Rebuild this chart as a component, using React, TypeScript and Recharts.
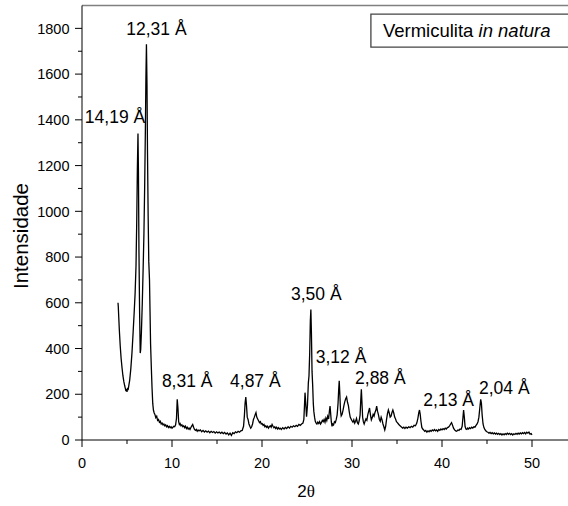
import React from 'react';
import {
  ComposedChart,
  Line,
  XAxis,
  YAxis,
  ReferenceLine,
  ReferenceDot,
  ReferenceArea,
  Label,
} from 'recharts';

// 2θ (degrees) and intensity
const scan: [number, number][] = [
  [4.00, 600], [4.03, 585], [4.08, 540], [4.15, 480], [4.25, 410], [4.35, 355], [4.45, 315], [4.55, 280],
  [4.65, 255], [4.75, 236], [4.82, 225], [4.88, 214], [4.94, 222], [5.00, 210], [5.06, 228], [5.12, 218],
  [5.20, 238], [5.30, 262], [5.42, 310], [5.55, 380], [5.68, 470], [5.80, 560], [5.90, 640], [6.00, 760],
  [6.08, 950], [6.15, 1180], [6.22, 1340], [6.27, 1180], [6.33, 820], [6.40, 560], [6.47, 380], [6.52, 395],
  [6.60, 470], [6.70, 600], [6.80, 760], [6.88, 900], [6.96, 1100], [7.04, 1350], [7.10, 1580], [7.16, 1730],
  [7.22, 1560], [7.28, 1250], [7.35, 980], [7.42, 780], [7.50, 700], [7.56, 560], [7.62, 420], [7.70, 320],
  [7.78, 230], [7.86, 160], [7.94, 130], [8.02, 118], [8.10, 112], [8.20, 98], [8.30, 104], [8.40, 86],
  [8.50, 90], [8.60, 78], [8.70, 82], [8.80, 70], [8.90, 74], [9.00, 66], [9.10, 70], [9.20, 62],
  [9.30, 66], [9.40, 58], [9.50, 63], [9.60, 55], [9.70, 60], [9.80, 54], [9.90, 58], [10.00, 52],
  [10.10, 56], [10.20, 60], [10.30, 58], [10.40, 66], [10.50, 95], [10.58, 178], [10.66, 140], [10.74, 80],
  [10.82, 68], [10.90, 72], [11.00, 62], [11.10, 66], [11.20, 58], [11.30, 62], [11.40, 54], [11.50, 60],
  [11.60, 50], [11.70, 56], [11.80, 48], [11.90, 52], [12.00, 46], [12.10, 55], [12.20, 62], [12.30, 68],
  [12.40, 56], [12.50, 46], [12.60, 42], [12.70, 46], [12.80, 38], [12.90, 44], [13.00, 40], [13.15, 44],
  [13.30, 36], [13.45, 42], [13.60, 35], [13.75, 40], [13.90, 34], [14.05, 39], [14.20, 32], [14.35, 38],
  [14.50, 33], [14.65, 37], [14.80, 30], [14.95, 36], [15.10, 31], [15.25, 35], [15.40, 29], [15.55, 34],
  [15.70, 28], [15.85, 33], [16.00, 26], [16.15, 31], [16.30, 22], [16.45, 30], [16.60, 20], [16.75, 32],
  [16.90, 28], [17.05, 36], [17.20, 32], [17.35, 38], [17.50, 34], [17.65, 40], [17.80, 42], [17.95, 60],
  [18.05, 110], [18.12, 160], [18.20, 188], [18.28, 150], [18.36, 100], [18.45, 90], [18.55, 70], [18.65, 60],
  [18.75, 52], [18.85, 58], [18.95, 70], [19.05, 90], [19.15, 100], [19.25, 112], [19.33, 120], [19.42, 100],
  [19.52, 92], [19.62, 84], [19.72, 76], [19.82, 80], [19.92, 70], [20.02, 72], [20.12, 64], [20.22, 68],
  [20.32, 58], [20.42, 62], [20.52, 55], [20.62, 60], [20.72, 52], [20.82, 58], [20.92, 62], [21.02, 56],
  [21.12, 68], [21.22, 60], [21.32, 54], [21.42, 58], [21.52, 50], [21.62, 56], [21.72, 48], [21.82, 54],
  [21.92, 48], [22.02, 52], [22.15, 46], [22.30, 54], [22.45, 48], [22.60, 55], [22.75, 50], [22.90, 58],
  [23.05, 52], [23.20, 60], [23.35, 56], [23.50, 62], [23.65, 58], [23.80, 64], [23.95, 60], [24.10, 68],
  [24.25, 64], [24.40, 70], [24.55, 74], [24.65, 90], [24.72, 150], [24.78, 207], [24.86, 160], [24.95, 102],
  [25.05, 150], [25.15, 250], [25.22, 280], [25.30, 380], [25.37, 520], [25.43, 571], [25.49, 470], [25.56, 300],
  [25.63, 240], [25.70, 160], [25.76, 125], [25.84, 100], [25.92, 82], [26.00, 75], [26.10, 70], [26.20, 78],
  [26.30, 72], [26.40, 80], [26.50, 70], [26.60, 76], [26.70, 86], [26.80, 80], [26.90, 90], [27.00, 78],
  [27.10, 96], [27.20, 85], [27.30, 104], [27.40, 92], [27.50, 130], [27.56, 148], [27.62, 120], [27.70, 80],
  [27.78, 60], [27.86, 70], [27.95, 66], [28.05, 80], [28.15, 76], [28.25, 90], [28.35, 110], [28.45, 160],
  [28.52, 220], [28.58, 259], [28.64, 210], [28.72, 130], [28.80, 105], [28.90, 112], [29.00, 130], [29.10, 150],
  [29.20, 168], [29.30, 180], [29.40, 188], [29.50, 165], [29.60, 150], [29.70, 122], [29.80, 100], [29.90, 92],
  [30.00, 84], [30.10, 78], [30.20, 88], [30.30, 74], [30.40, 82], [30.50, 94], [30.60, 76], [30.70, 70],
  [30.80, 84], [30.90, 110], [30.97, 170], [31.04, 222], [31.10, 170], [31.18, 100], [31.26, 80], [31.35, 70],
  [31.45, 82], [31.55, 92], [31.65, 86], [31.75, 110], [31.85, 125], [31.95, 140], [32.05, 110], [32.15, 88],
  [32.25, 98], [32.35, 112], [32.45, 104], [32.55, 120], [32.65, 130], [32.74, 148], [32.84, 125], [32.94, 110],
  [33.04, 90], [33.14, 82], [33.24, 100], [33.34, 88], [33.44, 70], [33.54, 58], [33.64, 44], [33.74, 60],
  [33.84, 90], [33.94, 115], [34.04, 131], [34.14, 118], [34.24, 100], [34.34, 104], [34.44, 120], [34.54, 131],
  [34.64, 118], [34.74, 100], [34.84, 92], [34.94, 80], [35.04, 76], [35.16, 70], [35.28, 64], [35.40, 60],
  [35.52, 56], [35.64, 52], [35.76, 56], [35.88, 50], [36.00, 56], [36.15, 52], [36.30, 58], [36.45, 54],
  [36.60, 60], [36.75, 56], [36.90, 64], [37.05, 62], [37.20, 74], [37.32, 95], [37.42, 120], [37.50, 131],
  [37.58, 112], [37.66, 82], [37.76, 55], [37.86, 48], [37.96, 44], [38.08, 38], [38.20, 42], [38.32, 34],
  [38.44, 40], [38.56, 36], [38.68, 42], [38.80, 38], [38.92, 44], [39.04, 40], [39.16, 46], [39.28, 40],
  [39.40, 44], [39.52, 38], [39.64, 46], [39.76, 42], [39.88, 48], [40.00, 44], [40.12, 50], [40.24, 46],
  [40.36, 52], [40.48, 48], [40.60, 54], [40.72, 56], [40.84, 62], [40.96, 70], [41.06, 76], [41.16, 66],
  [41.28, 52], [41.40, 44], [41.52, 40], [41.64, 38], [41.76, 44], [41.88, 42], [42.00, 48], [42.12, 46],
  [42.24, 60], [42.32, 95], [42.40, 131], [42.48, 100], [42.56, 60], [42.66, 48], [42.76, 46], [42.86, 52],
  [42.96, 48], [43.06, 54], [43.18, 50], [43.30, 56], [43.42, 52], [43.54, 58], [43.66, 56], [43.78, 64],
  [43.90, 70], [44.00, 80], [44.10, 100], [44.20, 140], [44.30, 178], [44.38, 160], [44.46, 110], [44.56, 70],
  [44.66, 54], [44.76, 46], [44.86, 40], [44.98, 36], [45.10, 34], [45.22, 30], [45.34, 33], [45.46, 28],
  [45.58, 32], [45.70, 27], [45.82, 31], [45.94, 26], [46.06, 30], [46.18, 25], [46.30, 29], [46.42, 24],
  [46.54, 28], [46.66, 22], [46.78, 27], [46.90, 23], [47.02, 28], [47.14, 24], [47.26, 30], [47.38, 25],
  [47.50, 29], [47.62, 24], [47.74, 28], [47.86, 22], [47.98, 27], [48.10, 24], [48.22, 29], [48.34, 25],
  [48.46, 30], [48.58, 26], [48.70, 31], [48.82, 27], [48.94, 32], [49.06, 28], [49.18, 33], [49.30, 27],
  [49.42, 34], [49.54, 30], [49.66, 35], [49.78, 26], [49.90, 28], [50.00, 22],
];

const xTicks = [0, 5, 10, 15, 20, 25, 30, 35, 40, 45, 50, 55];
const yTicks = [0, 100, 200, 300, 400, 500, 600, 700, 800, 900, 1000, 1100, 1200, 1300, 1400, 1500, 1600, 1700, 1800];

const peakLabels = ['14,19 Å', '12,31 Å', '8,31 Å', '4,87 Å', '3,50 Å', '3,12 Å', '2,88 Å', '2,13 Å', '2,04 Å'];
const peakLabelX = [3.67, 8.27, 11.69, 19.26, 26.03, 28.78, 33.15, 40.74, 46.92];
const peakLabelY = [1412, 1798, 259, 259, 638, 363, 271, 176, 228];

const legendText = 'Vermiculita';
const legendItalic = 'in natura';
const yTitle = 'Intensidade';

const data = scan.map(([t, i]) => ({ t, i }));
const FONT = '"Liberation Sans", Arial, sans-serif';

const XTick = (props: any) => {
  const { x, y, payload } = props;
  const v = payload.value;
  const major = v % 10 === 0;
  return (
    <g>
      <line x1={x} x2={x} y1={y} y2={y + (major ? 7 : 4)} stroke="#000" strokeWidth={1} />
      {major && (
        <text x={x} y={y + 28} textAnchor="middle" fontSize={14.5} fontFamily={FONT} fill="#000">
          {v}
        </text>
      )}
    </g>
  );
};

const YTick = (props: any) => {
  const { x, y, payload } = props;
  const v = payload.value;
  const major = v % 200 === 0;
  return (
    <g>
      <line x1={x} x2={x - (major ? 7 : 4)} y1={y} y2={y} stroke="#000" strokeWidth={1} />
      {major && (
        <text x={x - 12.5} y={y + 5.2} textAnchor="end" fontSize={14.5} fontFamily={FONT} fill="#000">
          {v}
        </text>
      )}
    </g>
  );
};

export default function App() {
  return (
    <div style={{ position: 'absolute', left: 0, top: 0, width: 568, height: 506, overflow: 'hidden', background: '#fff' }}>
      <ComposedChart
        width={590}
        height={506}
        data={data}
        margin={{ top: 5.5, right: 13, bottom: 0, left: 0 }}
      >
        <XAxis
          dataKey="t"
          type="number"
          domain={[0, 55]}
          ticks={xTicks}
          interval={0}
          tickSize={0}
          tickMargin={0}
          tick={<XTick />}
          height={66}
          stroke="#000"
          axisLine={{ stroke: '#000', strokeWidth: 1 }}
          tickLine={false}
        >
          <Label
            content={() => (
              <text x={306} y={497} textAnchor="middle" fontSize={17} fontFamily={FONT} fill="#000">
                2<tspan fontFamily='"Liberation Serif", "DejaVu Serif", serif'>θ</tspan>
              </text>
            )}
          />
        </XAxis>
        <YAxis
          type="number"
          domain={[0, 1900]}
          ticks={yTicks}
          interval={0}
          tickSize={0}
          tickMargin={0}
          tick={<YTick />}
          width={82}
          axisLine={{ stroke: '#000', strokeWidth: 1 }}
          tickLine={false}
        >
          <Label
            content={() => (
              <text
                x={20}
                y={236}
                transform="rotate(-90, 20, 236)"
                textAnchor="middle"
                dominantBaseline="central"
                fontSize={20.5}
                fontFamily={FONT}
                fill="#000"
              >
                {yTitle}
              </text>
            )}
          />
        </YAxis>
        <ReferenceLine y={1900} stroke="#808080" strokeWidth={1.5} />
        <ReferenceLine x={55} stroke="#808080" strokeWidth={1.5} />
        <ReferenceArea
          x1={32.1}
          x2={55}
          y1={1718}
          y2={1862}
          fill="#fff"
          fillOpacity={1}
          stroke="#444"
          strokeWidth={1.3}
          label={{
            content: (p: any) => {
              const vb = p.viewBox || {};
              return (
                <text
                  x={vb.x + 12}
                  y={vb.y + vb.height / 2}
                  dy="0.35em"
                  fontSize={18.5}
                  fontFamily={FONT}
                  fill="#000"
                >
                  {legendText} <tspan fontStyle="italic">{legendItalic}</tspan>
                </text>
              );
            },
          }}
        />
        <Line
          dataKey="i"
          type="linear"
          stroke="#000"
          strokeWidth={1.3}
          dot={false}
          isAnimationActive={false}
        />
        {peakLabels.map((lab, k) => (
          <ReferenceDot
            key={lab}
            x={peakLabelX[k]}
            y={peakLabelY[k]}
            r={0}
            fill="none"
            stroke="none"
            label={{ value: lab, position: 'center', fontSize: 17.5, fontFamily: FONT, fill: '#000' }}
          />
        ))}
      </ComposedChart>
    </div>
  );
}
